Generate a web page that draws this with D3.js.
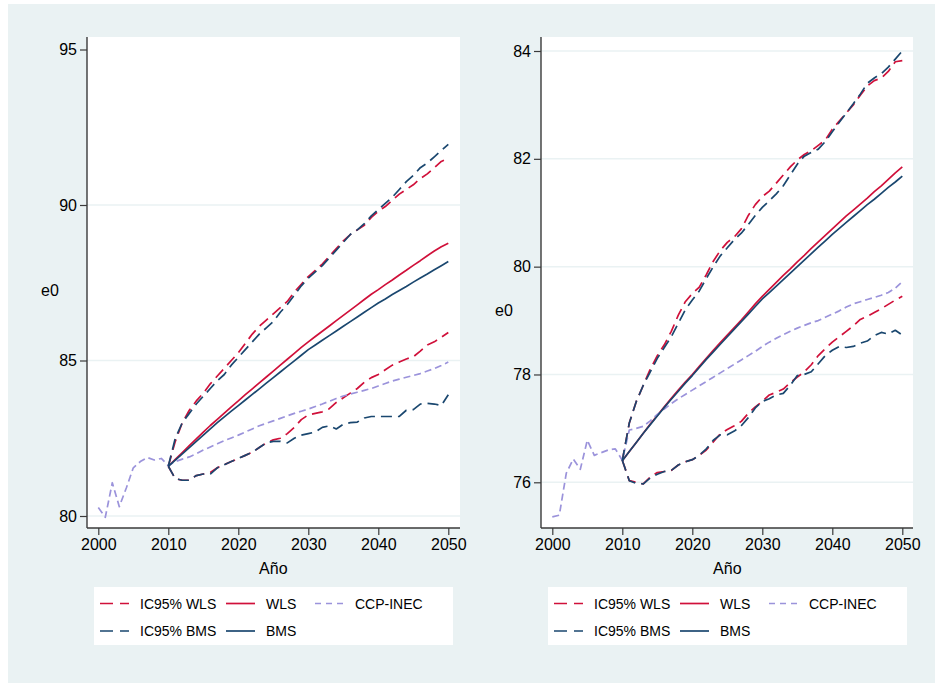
<!DOCTYPE html>
<html>
<head>
<meta charset="utf-8">
<script src="https://cdn.jsdelivr.net/npm/d3@7"></script>
<style>
  body { margin: 0; background: #fff; }
  svg { display: block; }
  text { font-family: "Liberation Sans", Arial, Helvetica, sans-serif; fill: #000; }
</style>
</head>
<body>
<svg id="chart" width="935" height="683"></svg>
<script>
// Observed years (CCP-INEC series) and projection years (models)
const histYears = d3.range(2000, 2051);
const projYears = d3.range(2010, 2051);

// ---------- Panel A: e0 (higher level) ----------
const a_ccpInec = [80.27, 79.96, 81.07, 80.30, 80.90, 81.55, 81.75, 81.88, 81.80, 81.85,
  81.62, 81.75, 81.83, 81.90, 82.00, 82.12, 82.22, 82.32, 82.42, 82.51,
  82.60, 82.70, 82.80, 82.90, 82.98, 83.06, 83.14, 83.22, 83.30, 83.37,
  83.44, 83.52, 83.60, 83.69, 83.78, 83.86, 83.92, 83.98, 84.04, 84.10,
  84.18, 84.26, 84.34, 84.40, 84.46, 84.52, 84.58, 84.66, 84.74, 84.84, 84.95];
const a_wls = [81.60, 81.82, 82.04, 82.26, 82.48, 82.70, 82.91, 83.11, 83.31, 83.51,
  83.70, 83.90, 84.09, 84.28, 84.47, 84.66, 84.85, 85.04, 85.23, 85.42,
  85.60, 85.77, 85.94, 86.11, 86.28, 86.45, 86.62, 86.79, 86.96, 87.13,
  87.28, 87.44, 87.59, 87.75, 87.90, 88.06, 88.21, 88.37, 88.52, 88.66, 88.77];
const a_bms = [81.60, 81.80, 82.00, 82.20, 82.40, 82.60, 82.80, 83.00, 83.19, 83.37,
  83.55, 83.73, 83.91, 84.09, 84.27, 84.45, 84.63, 84.81, 84.99, 85.17,
  85.35, 85.50, 85.65, 85.80, 85.95, 86.10, 86.25, 86.40, 86.55, 86.70,
  86.85, 86.98, 87.12, 87.25, 87.38, 87.52, 87.65, 87.78, 87.92, 88.05, 88.18];
const a_wlsHi = [81.60, 82.40, 83.00, 83.40, 83.70, 83.95, 84.25, 84.50, 84.75, 85.00,
  85.25, 85.55, 85.85, 86.10, 86.30, 86.50, 86.70, 86.90, 87.20, 87.45,
  87.70, 87.90, 88.10, 88.35, 88.60, 88.85, 89.05, 89.20, 89.35, 89.60,
  89.80, 89.95, 90.15, 90.35, 90.50, 90.65, 90.85, 91.00, 91.20, 91.40, 91.50];
const a_wlsLo = [81.60, 81.20, 81.15, 81.15, 81.30, 81.35, 81.40, 81.55, 81.65, 81.75,
  81.85, 81.95, 82.05, 82.20, 82.35, 82.45, 82.50, 82.65, 82.85, 83.10,
  83.25, 83.30, 83.35, 83.45, 83.65, 83.80, 83.95, 84.10, 84.30, 84.45,
  84.55, 84.70, 84.85, 84.95, 85.05, 85.12, 85.30, 85.50, 85.60, 85.75, 85.90];
const a_bmsHi = [81.60, 82.50, 83.00, 83.30, 83.60, 83.85, 84.10, 84.35, 84.55, 84.85,
  85.10, 85.35, 85.60, 85.85, 86.05, 86.25, 86.55, 86.80, 87.10, 87.40,
  87.65, 87.85, 88.05, 88.30, 88.55, 88.80, 89.05, 89.20, 89.40, 89.65,
  89.85, 90.05, 90.25, 90.50, 90.75, 90.95, 91.20, 91.35, 91.55, 91.75, 91.95];
const a_bmsLo = [81.60, 81.20, 81.15, 81.15, 81.30, 81.35, 81.35, 81.55, 81.65, 81.75,
  81.85, 81.95, 82.05, 82.20, 82.35, 82.40, 82.40, 82.35, 82.50, 82.60,
  82.65, 82.70, 82.85, 82.90, 82.80, 82.95, 83.00, 83.02, 83.15, 83.20,
  83.20, 83.20, 83.20, 83.20, 83.40, 83.42, 83.60, 83.62, 83.60, 83.55, 83.90];
const a_yTicks = [80, 85, 90, 95];
const a_gridTicks = [80, 85, 90];

// ---------- Panel B: e0 (lower level) ----------
const b_ccpInec = [75.36, 75.39, 76.17, 76.43, 76.24, 76.78, 76.50, 76.55, 76.60, 76.62,
  76.41, 76.97, 77.00, 77.04, 77.14, 77.26, 77.36, 77.46, 77.55, 77.63,
  77.71, 77.79, 77.87, 77.95, 78.03, 78.11, 78.19, 78.27, 78.35, 78.43,
  78.52, 78.60, 78.67, 78.74, 78.80, 78.86, 78.91, 78.96, 79.00, 79.06,
  79.12, 79.18, 79.25, 79.31, 79.35, 79.39, 79.43, 79.47, 79.52, 79.60, 79.72];
const b_wls = [76.40, 76.57, 76.74, 76.91, 77.08, 77.24, 77.40, 77.56, 77.71, 77.86,
  78.00, 78.15, 78.30, 78.45, 78.59, 78.73, 78.87, 79.01, 79.16, 79.31,
  79.45, 79.58, 79.71, 79.84, 79.96, 80.09, 80.21, 80.34, 80.46, 80.58,
  80.70, 80.82, 80.94, 81.05, 81.16, 81.27, 81.39, 81.50, 81.62, 81.74, 81.85];
const b_bms = [76.40, 76.57, 76.74, 76.91, 77.07, 77.23, 77.39, 77.54, 77.69, 77.84,
  77.98, 78.13, 78.28, 78.42, 78.56, 78.70, 78.84, 78.98, 79.12, 79.26,
  79.40, 79.52, 79.64, 79.76, 79.88, 80.00, 80.12, 80.24, 80.36, 80.48,
  80.60, 80.71, 80.82, 80.93, 81.04, 81.15, 81.25, 81.36, 81.47, 81.57, 81.68];
const b_wlsHi = [76.40, 77.10, 77.50, 77.80, 78.10, 78.35, 78.55, 78.80, 79.10, 79.35,
  79.50, 79.62, 79.85, 80.10, 80.30, 80.45, 80.55, 80.70, 80.95, 81.15,
  81.30, 81.40, 81.55, 81.70, 81.85, 81.98, 82.08, 82.15, 82.25, 82.35,
  82.55, 82.70, 82.85, 83.00, 83.18, 83.35, 83.45, 83.50, 83.62, 83.80, 83.82];
const b_wlsLo = [76.41, 76.03, 76.00, 75.97, 76.10, 76.18, 76.20, 76.22, 76.32, 76.38,
  76.42, 76.50, 76.60, 76.75, 76.90, 76.98, 77.05, 77.13, 77.28, 77.40,
  77.50, 77.62, 77.67, 77.73, 77.85, 77.95, 78.05, 78.18, 78.35, 78.48,
  78.60, 78.70, 78.80, 78.90, 79.02, 79.08, 79.15, 79.22, 79.30, 79.38, 79.45];
const b_bmsHi = [76.40, 77.10, 77.50, 77.80, 78.05, 78.30, 78.50, 78.70, 78.95, 79.20,
  79.38, 79.55, 79.78, 80.00, 80.20, 80.35, 80.50, 80.62, 80.78, 80.95,
  81.10, 81.22, 81.35, 81.50, 81.70, 81.90, 82.05, 82.12, 82.18, 82.32,
  82.50, 82.68, 82.85, 83.02, 83.20, 83.40, 83.50, 83.58, 83.70, 83.85, 84.00];
const b_bmsLo = [76.41, 76.03, 75.98, 75.97, 76.08, 76.15, 76.20, 76.22, 76.32, 76.38,
  76.42, 76.50, 76.62, 76.78, 76.88, 76.88, 76.95, 77.05, 77.20, 77.38,
  77.50, 77.55, 77.62, 77.65, 77.80, 77.98, 78.00, 78.05, 78.20, 78.35,
  78.45, 78.52, 78.50, 78.52, 78.58, 78.62, 78.72, 78.78, 78.75, 78.82, 78.73];
const b_yTicks = [76, 78, 80, 82, 84];
const b_gridTicks = [76, 78, 80, 82, 84];

const xTicks = [2000, 2010, 2020, 2030, 2040, 2050];
const xTitle = "Año";
const yTitle = "e0";

// Legend entries (label, series style key), laid out in two rows of three columns
const legendRows = [
  [{ label: "IC95% WLS", key: "wlsCI" }, { label: "WLS", key: "wls" }, { label: "CCP-INEC", key: "ccp" }],
  [{ label: "IC95% BMS", key: "bmsCI" }, { label: "BMS", key: "bms" }]
];

// Line styles
const COL = { red: "#D0103A", navy: "#1A476F", lilac: "#9B93DB" };
const STYLE = {
  wlsCI: { color: COL.red, dash: "11,6", width: 1.7 },
  wls:   { color: COL.red, dash: null, width: 1.7 },
  ccp:   { color: COL.lilac, dash: "7,4", width: 1.7 },
  bmsCI: { color: COL.navy, dash: "11,6", width: 1.7 },
  bms:   { color: COL.navy, dash: null, width: 1.7 }
};

const BG = "#EAF2F3";
const svg = d3.select("#chart");

// Outer graph region
svg.append("rect").attr("x", 8).attr("y", 4).attr("width", 927).attr("height", 679).attr("fill", BG);

const panels = [
  {
    left: 87, right: 460, top: 37, bottom: 528,
    yDomain: [80, 95], yRange: [516, 49.5], yTicks: a_yTicks, gridTicks: a_gridTicks, yTitleY: 296,
    series: [
      { key: "wlsCI", x: projYears, y: a_wlsHi },
      { key: "wlsCI", x: projYears, y: a_wlsLo },
      { key: "wls",   x: projYears, y: a_wls },
      { key: "ccp",   x: histYears, y: a_ccpInec },
      { key: "bmsCI", x: projYears, y: a_bmsHi },
      { key: "bmsCI", x: projYears, y: a_bmsLo },
      { key: "bms",   x: projYears, y: a_bms }
    ]
  },
  {
    left: 541, right: 913, top: 37, bottom: 528,
    yDomain: [76, 84], yRange: [482.3, 51], yTicks: b_yTicks, gridTicks: b_gridTicks, yTitleY: 316,
    series: [
      { key: "wlsCI", x: projYears, y: b_wlsHi },
      { key: "wlsCI", x: projYears, y: b_wlsLo },
      { key: "wls",   x: projYears, y: b_wls },
      { key: "ccp",   x: histYears, y: b_ccpInec },
      { key: "bmsCI", x: projYears, y: b_bmsHi },
      { key: "bmsCI", x: projYears, y: b_bmsLo },
      { key: "bms",   x: projYears, y: b_bms }
    ]
  }
];

panels.forEach(p => {
  const g = svg.append("g");
  const x = d3.scaleLinear().domain([2000, 2050]).range([p.left + 11.3, p.left + 361.3]);
  const y = d3.scaleLinear().domain(p.yDomain).range(p.yRange);

  // Plot region
  g.append("rect").attr("x", p.left).attr("y", p.top)
    .attr("width", p.right - p.left).attr("height", p.bottom - p.top).attr("fill", "#fff");

  // Horizontal grid lines
  g.append("g").selectAll("line").data(p.gridTicks).join("line")
    .attr("x1", p.left).attr("x2", p.right)
    .attr("y1", d => y(d)).attr("y2", d => y(d))
    .attr("stroke", BG).attr("stroke-width", 1.5);

  // Series
  const line = d3.line().x(d => x(d[0])).y(d => y(d[1]));
  p.series.forEach(s => {
    const st = STYLE[s.key];
    g.append("path")
      .attr("d", line(s.x.map((yr, i) => [yr, s.y[i]])))
      .attr("fill", "none")
      .attr("stroke", st.color)
      .attr("stroke-width", st.width)
      .attr("stroke-dasharray", st.dash)
      .attr("stroke-linejoin", "round");
  });

  // Y axis
  const yAxis = d3.axisLeft(y).tickValues(p.yTicks).tickSize(7).tickPadding(3).tickFormat(d3.format("d"));
  const ya = g.append("g").attr("transform", `translate(${p.left},0)`).call(yAxis);
  ya.select(".domain").attr("d", `M0,${p.top}V${p.bottom}`);
  // X axis
  const xAxis = d3.axisBottom(x).tickValues(xTicks).tickSize(7).tickPadding(4).tickFormat(d3.format("d"));
  const xa = g.append("g").attr("transform", `translate(0,${p.bottom})`).call(xAxis);
  xa.select(".domain").attr("d", `M${p.left},0H${p.right}`);

  [ya, xa].forEach(a => {
    a.selectAll(".domain").attr("stroke", "#3a3a3a").attr("stroke-width", 1.4);
    a.selectAll(".tick line").attr("stroke", "#3a3a3a").attr("stroke-width", 1.2);
    a.selectAll(".tick text").attr("font-size", 16).attr("font-family", "Liberation Sans, Arial, sans-serif").attr("fill", "#000");
  });

  // Axis titles
  g.append("text").attr("x", (x(2000) + x(2050)) / 2).attr("y", 574)
    .attr("text-anchor", "middle").attr("font-size", 16).text(xTitle);
  g.append("text").attr("x", p.left - 37).attr("y", p.yTitleY)
    .attr("text-anchor", "middle").attr("font-size", 16).text(yTitle);

  // Legend
  const lx = p.left + 7, ly = 587;
  const lg = g.append("g").attr("transform", `translate(${lx},${ly})`);
  lg.append("rect").attr("width", 359).attr("height", 58).attr("fill", "#fff");
  const colX = [6, 132, 221];
  legendRows.forEach((row, ri) => {
    const cy = ri === 0 ? 16.5 : 44;
    row.forEach((item, ci) => {
      const st = STYLE[item.key];
      lg.append("line").attr("x1", colX[ci]).attr("x2", colX[ci] + 29)
        .attr("y1", cy).attr("y2", cy)
        .attr("stroke", st.color).attr("stroke-width", st.width)
        .attr("stroke-dasharray", item.key.endsWith("CI") ? "13,7" : (item.key === "ccp" ? "6,5" : null));
      lg.append("text").attr("x", colX[ci] + 40).attr("y", cy + 5)
        .attr("font-size", 14).text(item.label);
    });
  });
});
</script>
</body>
</html>
